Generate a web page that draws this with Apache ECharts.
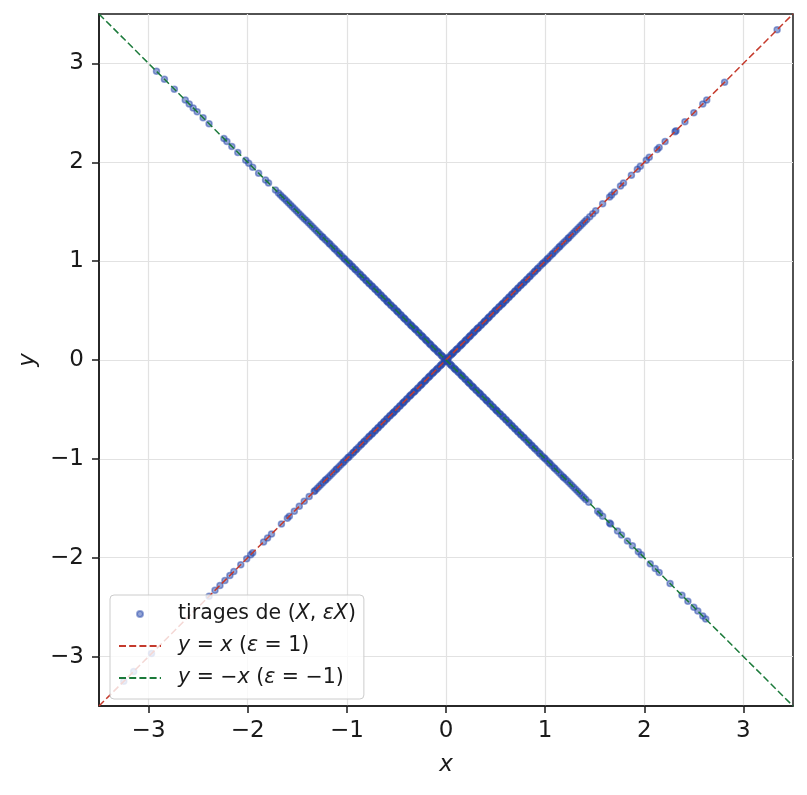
<!DOCTYPE html>
<html>
<head>
<meta charset="utf-8">
<script src="https://cdn.jsdelivr.net/npm/echarts@6/dist/echarts.min.js"></script>
<style>
html,body{margin:0;padding:0;background:#fff;}
#c{width:807px;height:795px;}
</style>
</head>
<body>
<div id="c"></div>
<script>
// Draws of X with epsilon = +1  (points on y = x)
const xEpsPlus = [
  0.01,0.02,0.03,0.05,0.06,0.07,0.08,0.10,0.11,0.12,0.14,0.15,0.16,0.17,0.19,0.20,0.21,0.23,0.24,0.25,
  0.27,0.28,0.29,0.31,0.32,0.33,0.35,0.36,0.38,0.39,0.40,0.42,0.43,0.44,0.46,0.47,0.49,0.50,0.51,0.53,
  0.54,0.56,0.57,0.58,0.60,0.61,0.63,0.64,0.66,0.67,0.69,0.70,0.72,0.73,0.75,0.76,0.78,0.79,0.81,0.82,
  0.84,0.85,0.87,0.89,0.90,0.92,0.93,0.95,0.97,0.98,1.00,1.02,1.03,1.05,1.07,1.08,1.10,1.12,1.14,1.15,
  1.17,1.19,1.21,1.23,1.24,1.26,1.28,1.30,1.32,1.34,1.36,1.38,1.40,1.42,
  1.45,1.48,1.51,1.58,1.65,1.67,1.70,1.76,1.79,1.87,1.93,1.96,2.02,2.05,2.13,2.15,2.21,2.31,2.32,2.41,
  2.50,2.59,2.63,2.81,3.34,
  -0.01,-0.02,-0.04,-0.05,-0.06,-0.08,-0.09,-0.10,-0.12,-0.13,-0.14,-0.16,-0.17,-0.18,-0.20,-0.21,-0.22,
  -0.24,-0.25,-0.26,-0.28,-0.29,-0.31,-0.32,-0.33,-0.35,-0.36,-0.37,-0.39,-0.40,-0.42,-0.43,-0.44,-0.46,
  -0.47,-0.49,-0.50,-0.52,-0.53,-0.54,-0.56,-0.57,-0.59,-0.60,-0.62,-0.63,-0.65,-0.66,-0.68,-0.69,-0.71,
  -0.72,-0.74,-0.75,-0.77,-0.78,-0.80,-0.82,-0.83,-0.85,-0.86,-0.88,-0.90,-0.91,-0.93,-0.94,-0.96,-0.98,
  -0.99,-1.01,-1.03,-1.04,-1.06,-1.08,-1.10,-1.11,-1.13,-1.15,-1.17,-1.19,-1.21,-1.22,-1.24,-1.26,-1.28,
  -1.30,-1.32,
  -1.33,-1.38,-1.43,-1.48,-1.53,-1.58,-1.60,-1.66,-1.76,-1.80,-1.84,-1.95,-1.97,-2.01,-2.07,-2.14,-2.18,
  -2.23,-2.28,-2.33,-2.39,-2.97,-3.15,-3.25
];
// Draws of X with epsilon = -1  (points on y = -x)
const xEpsMinus = [
  -0.01,-0.03,-0.04,-0.05,-0.07,-0.08,-0.09,-0.11,-0.12,-0.13,-0.15,-0.16,-0.17,-0.19,-0.20,-0.21,-0.23,
  -0.24,-0.25,-0.27,-0.28,-0.30,-0.31,-0.32,-0.34,-0.35,-0.36,-0.38,-0.39,-0.41,-0.42,-0.43,-0.45,-0.46,
  -0.48,-0.49,-0.50,-0.52,-0.53,-0.55,-0.56,-0.58,-0.59,-0.60,-0.62,-0.63,-0.65,-0.66,-0.68,-0.69,-0.71,
  -0.72,-0.74,-0.75,-0.77,-0.78,-0.80,-0.81,-0.83,-0.84,-0.86,-0.87,-0.89,-0.91,-0.92,-0.94,-0.95,-0.97,
  -0.98,-1.00,-1.02,-1.03,-1.05,-1.07,-1.08,-1.10,-1.12,-1.13,-1.15,-1.17,-1.18,-1.20,-1.22,-1.24,-1.25,
  -1.27,-1.29,-1.31,-1.33,-1.35,-1.37,-1.39,-1.41,-1.43,-1.45,-1.47,-1.49,-1.51,-1.53,-1.55,-1.57,-1.59,
  -1.61,-1.63,-1.65,-1.67,-1.69,-1.72,
  -1.79,-1.82,-1.89,-1.95,-1.99,-2.02,-2.10,-2.16,-2.21,-2.24,-2.39,-2.45,-2.51,-2.55,-2.59,-2.63,-2.74,
  -2.84,-2.92,
  0.01,0.02,0.04,0.05,0.06,0.08,0.09,0.10,0.12,0.13,0.15,0.16,0.17,0.19,0.20,0.22,0.23,0.24,0.26,0.27,
  0.28,0.30,0.31,0.33,0.34,0.35,0.37,0.38,0.40,0.41,0.42,0.44,0.45,0.47,0.48,0.50,0.51,0.52,0.54,0.55,
  0.57,0.58,0.60,0.61,0.63,0.64,0.66,0.67,0.69,0.70,0.72,0.73,0.75,0.76,0.78,0.79,0.81,0.83,0.84,0.86,
  0.87,0.89,0.90,0.92,0.94,0.95,0.97,0.99,1.00,1.02,1.04,1.05,1.07,1.09,1.10,1.12,1.14,1.16,1.18,1.19,
  1.21,1.23,1.25,1.27,1.29,1.31,1.33,1.35,1.37,1.39,1.41,1.44,
  1.53,1.55,1.58,1.65,1.66,1.73,1.77,1.83,1.88,1.94,1.97,2.06,2.11,2.15,2.26,2.38,2.44,2.50,2.54,2.59,2.62
];
// Reference lines
const refLineX = [-3.5, 3.5];
// Tick values / labels
const tickValues = [-3, -2, -1, 0, 1, 2, 3];
const axisMin = -3.5, axisMax = 3.5;

const scatterData = xEpsPlus.map(x => [x, x]).concat(xEpsMinus.map(x => [x, -x]));
const linePlus = refLineX.map(x => [x, x]);
const lineMinus = refLineX.map(x => [x, -x]);

const FONT = 'DejaVu Sans';
const fmt = v => (v < 0 ? '\u2212' + Math.abs(v) : String(v));
const PT = 'rgba(36,68,170,0.6)';

const chart = echarts.init(document.getElementById('c'), null, {renderer: 'canvas'});
const axisCommon = {
  type: 'value', min: axisMin, max: axisMax, splitNumber: 7,
  axisLine: {show: true, onZero: false, lineStyle: {color: '#1a1a1a', width: 1.5}},
  axisTick: {show: true, length: 7, inside: false, lineStyle: {color: '#1a1a1a', width: 1.5}, customValues: tickValues},
  axisLabel: {fontFamily: FONT, fontSize: 23, color: '#1a1a1a', formatter: fmt, customValues: tickValues},
  splitLine: {show: true, lineStyle: {color: '#e2e2e2', width: 1.2}},
  nameTextStyle: {fontFamily: FONT, fontSize: 23, fontStyle: 'italic', color: '#1a1a1a'}
};
chart.setOption({
  animation: false,
  backgroundColor: '#fff',
  grid: {left: 99, right: 14, top: 14, bottom: 89, show: true, borderColor: '#1a1a1a', borderWidth: 1.5, containLabel: false},
  xAxis: Object.assign({}, axisCommon, {
    name: 'x', nameLocation: 'middle', nameGap: 48,
    axisLabel: Object.assign({}, axisCommon.axisLabel, {margin: 14})
  }),
  yAxis: Object.assign({}, axisCommon, {
    name: 'y', nameLocation: 'middle', nameGap: 58,
    axisLabel: Object.assign({}, axisCommon.axisLabel, {margin: 15})
  }),
  legend: {
    left: 110, top: 595, orient: 'vertical',
    itemWidth: 42, itemHeight: 6, itemGap: 10,
    padding: [8, 8, 10, 8],
    backgroundColor: 'rgba(255,255,255,0.8)',
    borderColor: '#cccccc', borderWidth: 1, borderRadius: 4,
    data: [
      {name: 'tirages', icon: 'circle'},
      {name: 'plus', itemStyle: {color: 'rgba(0,0,0,0)', borderColor: 'rgba(0,0,0,0)', borderWidth: 0}},
      {name: 'minus', itemStyle: {color: 'rgba(0,0,0,0)', borderColor: 'rgba(0,0,0,0)', borderWidth: 0}}
    ],
    formatter: function (name) {
      if (name === 'tirages') return 'tirages de ({i|X}, {i|\u03b5X})';
      if (name === 'plus') return '{i|y} = {i|x} ({i|\u03b5} = 1)';
      return '{i|y} = \u2212{i|x} ({i|\u03b5} = \u22121)';
    },
    textStyle: {
      fontFamily: FONT, fontSize: 20.5, lineHeight: 22, color: '#1a1a1a', padding: [0, 0, 0, 12],
      rich: {i: {fontFamily: FONT, fontSize: 20.5, lineHeight: 22, fontStyle: 'italic', color: '#1a1a1a'}}
    }
  },
  series: [
    {
      name: 'tirages', type: 'scatter', data: scatterData, symbol: 'circle', symbolSize: 6,
      itemStyle: {color: PT, borderColor: PT, borderWidth: 1.5}, z: 2, silent: true
    },
    {
      name: 'plus', type: 'line', data: linePlus, showSymbol: false, symbol: 'none', z: 3, silent: true,
      lineStyle: {color: '#c53a2c', width: 1.5, type: [7, 3.2]}, itemStyle: {color: '#c53a2c'}
    },
    {
      name: 'minus', type: 'line', data: lineMinus, showSymbol: false, symbol: 'none', z: 3, silent: true,
      lineStyle: {color: '#1b7a3a', width: 1.5, type: [7, 3.2]}, itemStyle: {color: '#1b7a3a'}
    }
  ]
});
</script>
</body>
</html>
